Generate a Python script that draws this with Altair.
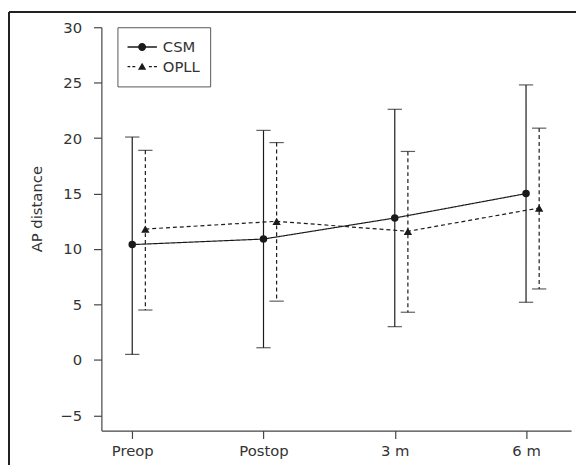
import altair as alt
import pandas as pd

time_labels = ["Preop", "Postop", "3 m", "6 m"]
groups = ["CSM", "OPLL"]

csm_mean = [10.4, 10.9, 12.8, 15.0]
csm_upper = [20.1, 20.7, 22.6, 24.8]
csm_lower = [0.5, 1.1, 3.0, 5.2]

opll_mean = [11.8, 12.5, 11.6, 13.7]
opll_upper = [18.9, 19.6, 18.8, 20.9]
opll_lower = [4.5, 5.3, 4.3, 6.4]

y_ticks = [-5, 0, 5, 10, 15, 20, 25, 30]

rows = []
for i, lab in enumerate(time_labels):
    rows.append({"t": i, "label": lab, "group": "CSM", "mean": csm_mean[i],
                 "lower": csm_lower[i], "upper": csm_upper[i]})
    rows.append({"t": i, "label": lab, "group": "OPLL", "mean": opll_mean[i],
                 "lower": opll_lower[i], "upper": opll_upper[i]})
df = pd.DataFrame(rows)

FONT = "DejaVu Sans"
TXT = "#333333"
INK = "#1a1a1a"
W, H = 476.3, 409.0

label_expr = "[" + ",".join("'" + s + "'" for s in time_labels) + "][datum.value]"

x_enc = alt.X("t:Q", scale=alt.Scale(domain=[-0.235, 3.343], nice=False, zero=False),
              axis=alt.Axis(values=[0, 1, 2, 3], labelExpr=label_expr, title=None,
                            grid=False, tickSize=8, labelPadding=5, labelFontSize=15,
                            labelFont=FONT, labelColor=TXT, domainColor="#444",
                            tickColor="#444", domainWidth=1.2, tickWidth=1.2))
y_scale = alt.Scale(domain=[-6.37, 30], nice=False, zero=False)
y_axis = alt.Axis(values=y_ticks, title="AP distance", grid=False, tickSize=8,
                  labelPadding=12, labelFontSize=15, labelFont=FONT, labelColor=TXT,
                  titleFont=FONT, titleFontSize=15, titleFontWeight="normal",
                  titleColor=TXT, titlePadding=16, titleY=184, titleAlign="center",
                  domainColor="#444",
                  tickColor="#444", domainWidth=1.2, tickWidth=1.2)

base = alt.Chart(df)

styles = {
    "CSM": {"dash": [1, 0], "shape": "circle", "size": 58, "off": 0},
    "OPLL": {"dash": [4, 3], "shape": "triangle-up", "size": 72, "off": 13.3},
}

layers = []
first = True
for g in groups:
    s = styles[g]
    gb = base.transform_filter(alt.datum.group == g)
    xe = x_enc if first else alt.X("t:Q")
    ye = alt.Y("upper:Q", scale=y_scale, axis=y_axis) if first else alt.Y("upper:Q")
    rule = gb.mark_rule(color=INK, strokeWidth=1.2, strokeDash=s["dash"], xOffset=s["off"]).encode(
        x=xe, y=ye, y2="lower:Q")
    cap_hi = gb.mark_tick(orient="horizontal", size=14.5, thickness=1.2, color=INK,
                          xOffset=s["off"]).encode(x="t:Q", y="upper:Q")
    cap_lo = gb.mark_tick(orient="horizontal", size=14.5, thickness=1.2, color=INK,
                          xOffset=s["off"]).encode(x="t:Q", y="lower:Q")
    line = gb.mark_line(color=INK, strokeWidth=1.2, strokeDash=s["dash"], xOffset=s["off"]).encode(
        x="t:Q", y="mean:Q")
    pts = gb.mark_point(shape=s["shape"], size=s["size"], filled=True, color=INK, opacity=1,
                        xOffset=s["off"]).encode(x="t:Q", y="mean:Q")
    layers += [rule, cap_hi, cap_lo, line, pts]
    first = False

# legend symbols: line + marker drawn as custom paths (filled)
csm_sym = ("M-1,-0.045L-0.26,-0.045L-0.26,0.045L-1,0.045Z "
           "M0.26,-0.045L1,-0.045L1,0.045L0.26,0.045Z "
           "M-0.27,0A0.27,0.27 0 1,1 0.27,0A0.27,0.27 0 1,1 -0.27,0Z")
opll_sym = ("M-1,-0.045L-0.8,-0.045L-0.8,0.045L-1,0.045Z "
            "M-0.66,-0.045L-0.46,-0.045L-0.46,0.045L-0.66,0.045Z "
            "M0,-0.27L0.28,0.21L-0.28,0.21Z "
            "M0.46,-0.045L0.66,-0.045L0.66,0.045L0.46,0.045Z "
            "M0.8,-0.045L1,-0.045L1,0.045L0.8,0.045Z")

legend_layer = base.transform_filter("false").mark_point(filled=True, color=INK, opacity=1).encode(
    x="t:Q", y="mean:Q",
    shape=alt.Shape("group:N",
                    scale=alt.Scale(domain=groups, range=[csm_sym, opll_sym]),
                    legend=alt.Legend(title=None, orient="none", legendX=16.3, legendY=0,
                                      strokeColor="#555555", padding=10,
                                      symbolSize=900, symbolOpacity=1,
                                      symbolFillColor=INK, symbolStrokeWidth=0,
                                      clipHeight=20, rowPadding=0, labelOffset=6,
                                      labelFont=FONT, labelFontSize=15, labelColor=TXT)))
layers.append(legend_layer)

# outer frame (top and left edges)
frame_top = alt.Chart(df).mark_rule(color="#222", strokeWidth=1.6).encode(
    x=alt.value(-93.7), x2=alt.value(W + 10), y=alt.value(-15.3))
frame_left = alt.Chart(df).mark_rule(color="#222", strokeWidth=1.6).encode(
    x=alt.value(-93.7), y=alt.value(-15.3), y2=alt.value(H + 40))
layers += [frame_top, frame_left]

chart = alt.layer(*layers).properties(
    width=W, height=H,
    autosize=alt.AutoSizeParams(type="none"),
    padding={"left": 94.7, "top": 16.3, "right": 5, "bottom": 32},
).configure_view(stroke=None)

chart.save("out.html", embed_options={"renderer": "svg", "actions": False})
